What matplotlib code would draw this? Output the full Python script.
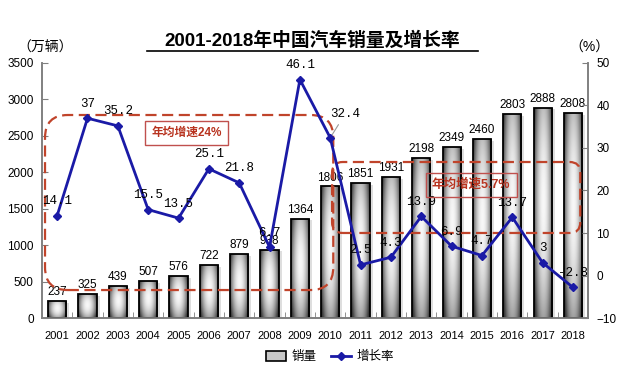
import numpy as np
import matplotlib
matplotlib.use("Agg")
import matplotlib.pyplot as plt
from matplotlib.patches import FancyBboxPatch, Rectangle, Patch
from matplotlib.lines import Line2D

plt.rcParams['font.family'] = ['Liberation Sans', 'Noto Sans CJK SC']

# data
years = [str(y) for y in range(2001, 2019)]
sales = [237, 325, 439, 507, 576, 722, 879, 938, 1364, 1806,
         1851, 1931, 2198, 2349, 2460, 2803, 2888, 2808]
growth = [14.1, 37, 35.2, 15.5, 13.5, 25.1, 21.8, 6.7, 46.1, 32.4,
          2.5, 4.3, 13.9, 6.9, 4.7, 13.7, 3, -2.8]

title = "2001-2018年中国汽车销量及增长率"
left_unit = "（万辆）"
right_unit = "（%）"
note1 = "年均增速24%"
note2 = "年均增速5.7%"

fig = plt.figure(figsize=(6.4, 3.74), dpi=100)
ax = fig.add_axes([0.0656, 0.1497, 0.8534, 0.6819])
ax2 = ax.twinx()

x = np.arange(len(years))
w = 0.6
gray = "#808080"

# gradient bars
u = np.linspace(-1, 1, 60)
v = np.linspace(-1, 1, 120)
U, V = np.meshgrid(u, v)
grad = 0.97 - 0.62 * np.abs(U) ** 2.0 - 0.28 * np.abs(V + 0.1) ** 2
grad = np.clip(grad, 0.22, 1)

for xi, h in zip(x, sales):
    sh = Rectangle((xi - w / 2 + 0.1, 0), w, h - 25, facecolor="#000000",
                   alpha=0.13, edgecolor="none", zorder=1)
    ax.add_patch(sh)
    im = ax.imshow(grad, cmap="gray", vmin=0, vmax=1, aspect="auto",
                   extent=[xi - w / 2, xi + w / 2, 0, h], zorder=2,
                   interpolation="bilinear")
    r = Rectangle((xi - w / 2, 0), w, h, facecolor="none",
                  edgecolor="black", linewidth=1.3, zorder=3)
    ax.add_patch(r)
    im.set_clip_path(r)
    ax.text(xi, h + 40, str(h), ha="center", va="bottom", fontsize=8.5,
            zorder=4)

ax.set_xlim(-0.5, len(years) - 0.5)
ax.set_ylim(0, 3500)
ax.set_yticks(range(0, 3501, 500))
ax.set_xticks(x)
ax.set_xticklabels(years, fontsize=8)
ax.set_xticks(np.arange(-0.5, len(years), 1), minor=True)
ax.tick_params(axis="x", which="major", length=0, pad=9)
ax.tick_params(axis="x", which="minor", direction="in", length=4, color=gray)
ax.tick_params(axis="y", direction="in", length=4, color=gray, labelsize=8.5,
               pad=6)

ax2.set_ylim(-10, 50)
ax2.set_yticks(range(-10, 51, 10))
ax2.tick_params(axis="y", direction="in", length=4, color=gray, labelsize=8.5,
                pad=6)

for a in (ax, ax2):
    a.spines["top"].set_visible(False)
    for s in ("left", "right", "bottom"):
        a.spines[s].set_color(gray)
        a.spines[s].set_linewidth(1.2)
ax.set_facecolor("none")

# growth line
ax2.plot(x, growth, color="#1a1aa6", linewidth=2, marker="D", markersize=4,
         zorder=5)
for xi, g in zip(x, growth):
    lbl = f"{g:g}"
    if xi == 9:
        ax2.annotate(lbl, (xi, g), xytext=(xi + 0.5, g + 4.3),
                     ha="center", va="bottom", fontsize=9,
                     family="Liberation Mono",
                     arrowprops=dict(arrowstyle="-", color="#999999", lw=0.8))
    else:
        ax2.text(xi, g + 2.0, lbl, ha="center", va="bottom", fontsize=9,
                 family="Liberation Mono", zorder=6)

# dashed rounded boxes
red = "#c0442b"
px_x = 546 / 18.0
px_y = 255 / 3500.0
asp = px_x / px_y
box1 = FancyBboxPatch((-0.4, 384), 9.5, 2786 - 384,
                      boxstyle="round,pad=0,rounding_size=0.75",
                      mutation_aspect=asp, facecolor="none", edgecolor=red,
                      linestyle=(0, (5, 2.5)), linewidth=1.6, zorder=4)
ax.add_patch(box1)
box2 = FancyBboxPatch((9.06, 1167), 8.18, 2141 - 1167,
                      boxstyle="round,pad=0,rounding_size=0.35",
                      mutation_aspect=asp, facecolor="none", edgecolor=red,
                      linestyle=(0, (5, 2.5)), linewidth=1.6, zorder=4)
ax.add_patch(box2)

fig.text(186.5 / 640, 1 - 133 / 374, note1, ha="center", va="center",
         fontsize=8.5, color="#b8331f", fontweight="bold",
         bbox=dict(boxstyle="square,pad=0.5", facecolor="white",
                   edgecolor="#c0504d", linewidth=1))
fig.text(471 / 640, 1 - 185 / 374, note2, ha="center", va="center",
         fontsize=9, color="#b8331f", fontweight="bold",
         bbox=dict(boxstyle="square,pad=0.5", facecolor="none",
                   edgecolor="#c0504d", linewidth=1))

# title and unit labels
fig.text(312 / 640, 1 - 40.5 / 374, title, ha="center", va="center",
         fontsize=13.5, fontweight="bold")
fig.add_artist(Line2D([147 / 640, 478 / 640], [1 - 51 / 374, 1 - 51 / 374],
                      color="black", linewidth=1.2))
fig.text(45 / 640, 1 - 48 / 374, left_unit, ha="center", va="center",
         fontsize=10)
fig.text(589 / 640, 1 - 48 / 374, right_unit, ha="center", va="center",
         fontsize=10)

# legend
handles = [Patch(facecolor="#c8c8c8", edgecolor="black", linewidth=1.2),
           Line2D([], [], color="#1a1aa6", linewidth=2, marker="D",
                  markersize=4)]
fig.legend(handles, ["销量", "增长率"], loc="center",
           bbox_to_anchor=(330 / 640, 1 - 357 / 374), ncol=2, frameon=False,
           fontsize=9, handlelength=1.6, handleheight=0.8, columnspacing=1.2,
           handletextpad=0.4)

fig.savefig("out.png", dpi=100)
